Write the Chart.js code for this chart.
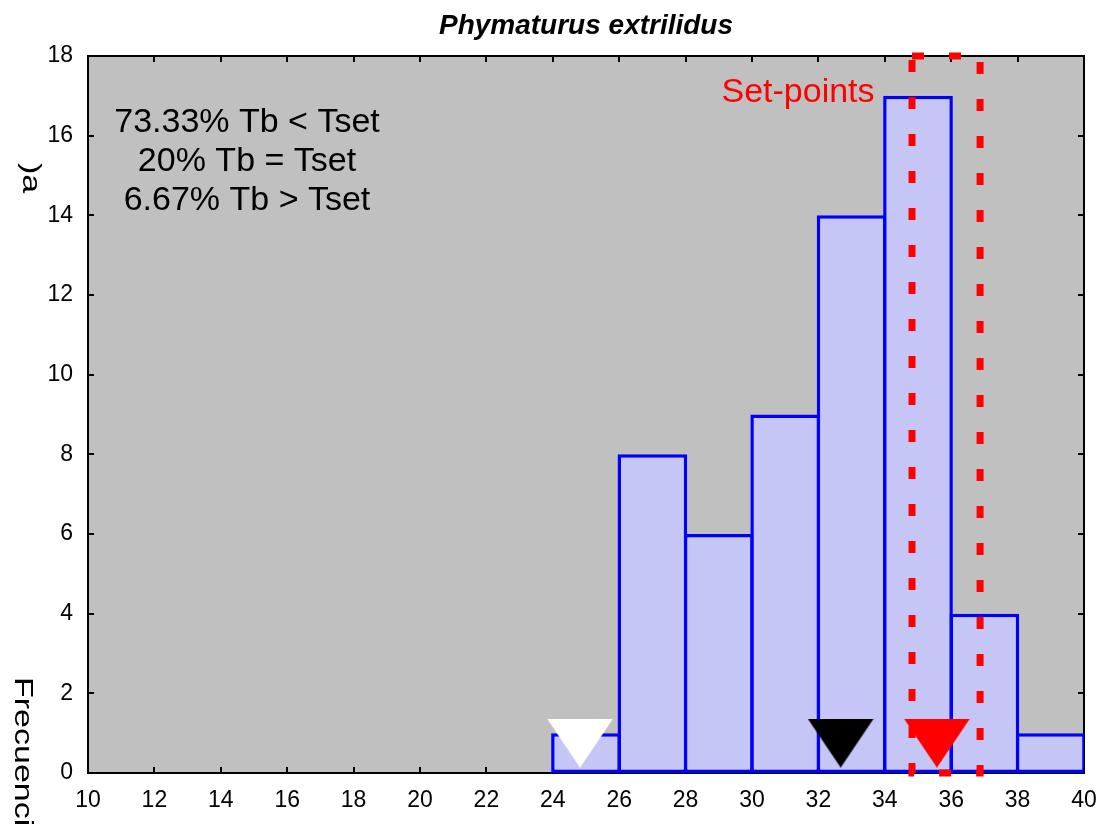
<!DOCTYPE html>
<html lang="es">
<head>
<meta charset="UTF-8">
<title>Phymaturus extrilidus</title>
<script src="https://cdn.jsdelivr.net/npm/chart.js"></script>
<style>
    body { margin: 0; background: #ffffff; }
    #wrap { width: 1102px; height: 829px; }
</style>
</head>
<body>
<div id="wrap"><canvas id="chart" width="1102" height="829"></canvas></div>
<script>
// histogram bins (lower edge, 2 degree wide) and counts
const binStart = [24, 26, 28, 30, 32, 34, 36, 38];
const binCounts = [1, 8, 6, 9, 14, 17, 4, 1];
const binWidth = 2;

// axis ranges
const xRange = [10, 40, 2];
const yRange = [0, 18, 2];

// set-point range (dotted box)
const setPoints = [34.82, 36.87];

// triangle markers
const markerX = [24.82, 32.67, 35.57];
const markerY = [0.75, 0.75, 0.75];
const markerColors = ['#ffffff', '#000000', '#ff0000'];

const titleText = 'Phymaturus extrilidus';
const notes = ['73.33% Tb < Tset', '20% Tb = Tset', '6.67% Tb > Tset'];
const setLabel = 'Set-points';
const yLabel = 'Frecuenci';
const yLabelRest = ')a';

const FONT = '"Liberation Sans", Arial, sans-serif';

// inverted triangle images for the markers
function triangle(color) {
    const c = document.createElement('canvas');
    c.width = 66;
    c.height = 49;
    const g = c.getContext('2d');
    g.fillStyle = color;
    g.beginPath();
    g.moveTo(0, 0);
    g.lineTo(66, 0);
    g.lineTo(33, 49);
    g.closePath();
    g.fill();
    return c;
}

const barData = binStart.map((s, i) => ({ x: s + binWidth / 2, y: binCounts[i] }));
const markerData = markerX.map((x, i) => ({ x: x, y: markerY[i] }));
const boxData = [
    { x: setPoints[0], y: yRange[1] },
    { x: setPoints[1], y: yRange[1] },
    { x: setPoints[1], y: yRange[0] },
    { x: setPoints[0], y: yRange[0] },
    { x: setPoints[0], y: yRange[1] }
];

function rotatedText(ctx, text, x, y, squeeze) {
    ctx.save();
    ctx.translate(x, y);
    ctx.rotate(Math.PI / 2);
    ctx.scale(1, squeeze);
    ctx.fillText(text, 0, 0);
    ctx.restore();
}

const framePlugin = {
    id: 'frame',
    beforeDraw(chart) {
        const a = chart.chartArea;
        const ctx = chart.ctx;
        ctx.save();
        ctx.fillStyle = '#c0c0c0';
        ctx.fillRect(a.left, a.top, a.right - a.left, a.bottom - a.top);
        ctx.restore();
    },
    beforeDatasetsDraw(chart) {
        const a = chart.chartArea;
        const ctx = chart.ctx;
        const xs = chart.scales.x;
        const ys = chart.scales.y;
        ctx.save();
        ctx.strokeStyle = '#000000';
        ctx.lineWidth = 2;
        ctx.strokeRect(a.left, a.top, a.right - a.left, a.bottom - a.top);
        ctx.beginPath();
        for (let v = xRange[0] + xRange[2]; v < xRange[1]; v += xRange[2]) {
            const px = Math.round(xs.getPixelForValue(v));
            ctx.moveTo(px, a.bottom); ctx.lineTo(px, a.bottom - 6);
            ctx.moveTo(px, a.top); ctx.lineTo(px, a.top + 6);
        }
        for (let v = yRange[0] + yRange[2]; v < yRange[1]; v += yRange[2]) {
            const py = Math.round(ys.getPixelForValue(v));
            ctx.moveTo(a.left, py); ctx.lineTo(a.left + 6, py);
            ctx.moveTo(a.right, py); ctx.lineTo(a.right - 6, py);
        }
        ctx.stroke();
        ctx.restore();
    },
    afterDraw(chart) {
        const a = chart.chartArea;
        const ctx = chart.ctx;
        ctx.save();
        ctx.fillStyle = '#000000';
        ctx.textAlign = 'center';
        ctx.textBaseline = 'alphabetic';
        ctx.font = 'italic bold 28px ' + FONT;
        ctx.fillText(titleText, (a.left + a.right) / 2, 34);

        ctx.font = '34px ' + FONT;
        notes.forEach((t, i) => ctx.fillText(t, 247, 132 + i * 39));

        ctx.fillStyle = '#ff0000';
        ctx.fillText(setLabel, 798, 102);

        ctx.fillStyle = '#000000';
        ctx.textAlign = 'left';
        ctx.font = '34px ' + FONT;
        rotatedText(ctx, yLabel, 15, 677, 0.76);
        rotatedText(ctx, yLabelRest, 23, 163, 0.76);
        ctx.restore();
    }
};

new Chart(document.getElementById('chart'), {
    type: 'bar',
    data: {
        datasets: [
            {
                type: 'scatter',
                data: markerData,
                pointStyle: markerColors.map(c => triangle(c)),
                pointRadius: 30,
                clip: false,
                order: 0
            },
            {
                type: 'line',
                data: boxData,
                borderColor: '#ff0000',
                borderWidth: 7,
                borderDash: [12, 25],
                pointRadius: 0,
                fill: false,
                tension: 0,
                clip: false,
                order: 1
            },
            {
                type: 'bar',
                data: barData,
                backgroundColor: '#c6c6f6',
                borderColor: '#0000ff',
                borderWidth: 3.5,
                borderSkipped: false,
                barPercentage: 1.05,
                categoryPercentage: 1,
                order: 2
            }
        ]
    },
    options: {
        responsive: false,
        animation: false,
        layout: { autoPadding: false, padding: { top: 56, right: 18, left: 0, bottom: 0 } },
        plugins: {
            legend: { display: false },
            tooltip: { enabled: false },
            title: { display: false }
        },
        events: [],
        scales: {
            x: {
                type: 'linear',
                min: xRange[0],
                max: xRange[1],
                offset: false,
                grid: { display: false, drawTicks: false, offset: false },
                border: { display: false },
                ticks: {
                    stepSize: xRange[2],
                    color: '#000000',
                    font: { family: FONT, size: 23 },
                    padding: 14,
                    maxRotation: 0,
                    autoSkip: false
                },
                afterFit(s) {
                    s.height = 56;
                    s.paddingLeft = 0;
                    s.paddingRight = 0;
                }
            },
            y: {
                type: 'linear',
                min: yRange[0],
                max: yRange[1],
                grid: { display: false, drawTicks: false },
                border: { display: false },
                ticks: {
                    stepSize: yRange[2],
                    color: '#000000',
                    font: { family: FONT, size: 23 },
                    padding: 15
                },
                afterFit(s) {
                    s.width = 88;
                    s.paddingTop = 0;
                    s.paddingBottom = 0;
                }
            }
        }
    },
    plugins: [framePlugin]
});
</script>
</body>
</html>
